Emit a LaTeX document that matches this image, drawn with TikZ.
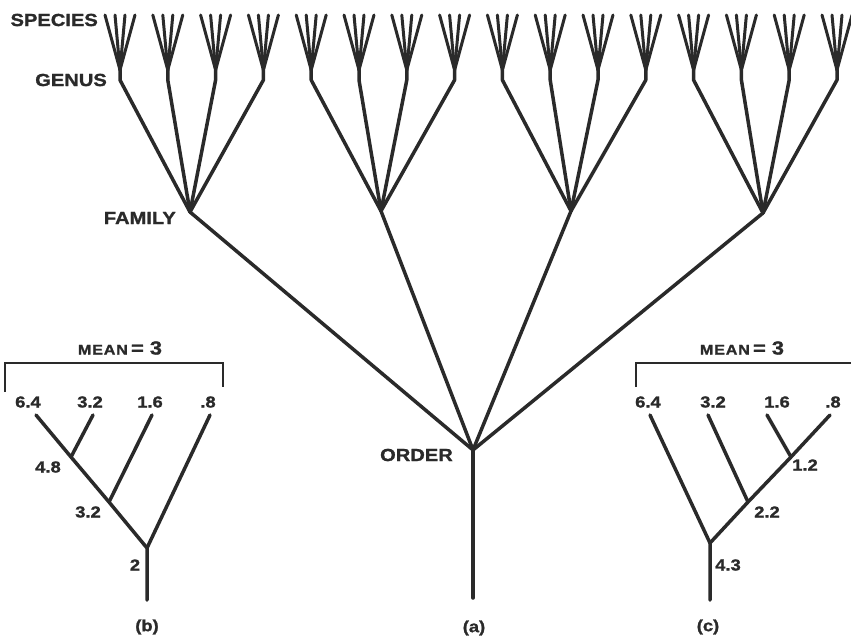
\documentclass[tikz,border=0pt]{standalone}
\usepackage{fontspec}
\setmainfont{Liberation Sans}[FakeStretch=1.15, BoldFeatures={FakeBold=1.3}]
\definecolor{ink}{HTML}{2A2A2A}
\begin{document}
\begin{tikzpicture}[x=1pt,y=-1pt,
  tree/.style={line width=3.5pt, draw=ink, line cap=round, line join=round},
  sp/.style={line width=3pt, draw=ink, line cap=round},
  brk/.style={line width=2pt, draw=ink},
  lbl/.style={font=\bfseries\fontsize{17.5}{18}\selectfont, text=ink, inner sep=0pt},
  num/.style={font=\bfseries\fontsize{16}{16}\selectfont, text=ink, inner sep=0pt}]
\useasboundingbox (0,0) rectangle (851,641);
% families and order
\coordinate (f1) at (190,212);
\coordinate (f2) at (381,211);
\coordinate (f3) at (571,211);
\coordinate (f4) at (763,213);
\coordinate (ord) at (473,450);
\coordinate (root) at (473,598);
% genera and species
\foreach \i in {0,...,15} {
  \pgfmathsetmacro\gx{120+47.8*\i}
  \pgfmathtruncatemacro\j{int(\i/4)+1}
  \coordinate (gc\i) at (\gx,70);
  \coordinate (g\i) at (\gx,80);
  \foreach \d [count=\k] in {-15,-5,5,15} {
    \coordinate (s\i-\k) at (\gx+\d,15);
    \draw[sp] (s\i-\k) -- (gc\i);
  }
  \draw[tree] (gc\i) -- (g\i) -- (f\j);
}
\foreach \j in {1,...,4} { \draw[tree] (f\j) -- (ord); }
\draw[tree] (ord) -- (root);
\node[lbl, anchor=east] (lsp) at (98,20) {SPECIES};
\node[lbl, anchor=east] (lge) at (107,80) {GENUS};
\node[lbl, anchor=east] (lfa) at (176,218) {FAMILY};
\node[lbl, anchor=east] (lor) at (453,455) {ORDER};
\node[num] (la) at (474,628) {(a)};
% subtree (b)
\coordinate (bt1) at (36,415);
\coordinate (bt2) at (93,415);
\coordinate (bt3) at (152,415);
\coordinate (bt4) at (210,415);
\coordinate (bj1) at (71,457);
\coordinate (bj2) at (109,502);
\coordinate (br) at (147,548);
\coordinate (bb) at (147,600);
\draw[tree] (bt1) -- (bj1) -- (bj2) -- (br) -- (bb);
\draw[tree] (bt2) -- (bj1);
\draw[tree] (bt3) -- (bj2);
\draw[tree] (bt4) -- (br);
\coordinate (bk1) at (5,392);
\coordinate (bk2) at (5,363);
\coordinate (bk3) at (223,363);
\coordinate (bk4) at (223,387);
\draw[brk] (bk1) -- (bk2) -- (bk3) -- (bk4);
\node[inner sep=0pt, text=ink] (bmean) at (120,348) {\bfseries{\fontsize{14}{14}\selectfont\addfontfeature{LetterSpace=6}MEAN} {\fontsize{19}{19}\selectfont= 3}};
\node[num] (bl1) at (28,402) {6.4};
\node[num] (bl2) at (90,402) {3.2};
\node[num] (bl3) at (150,402) {1.6};
\node[num] (bl4) at (208,402) {.8};
\node[num] (bn1) at (48,467) {4.8};
\node[num] (bn2) at (88,512) {3.2};
\node[num] (bn3) at (135,565) {2};
\node[num] (lb) at (147,627) {(b)};
% subtree (c)
\coordinate (ct1) at (650,415);
\coordinate (ct2) at (708,415);
\coordinate (ct3) at (767,415);
\coordinate (ct4) at (830,415);
\coordinate (cj1) at (791,457);
\coordinate (cj2) at (748,502);
\coordinate (cr) at (710,543);
\coordinate (cb) at (710,600);
\draw[tree] (ct4) -- (cj1) -- (cj2) -- (cr) -- (cb);
\draw[tree] (ct1) -- (cr);
\draw[tree] (ct2) -- (cj2);
\draw[tree] (ct3) -- (cj1);
\coordinate (ck1) at (636,387);
\coordinate (ck2) at (636,363);
\coordinate (ck3) at (856,363);
\draw[brk] (ck1) -- (ck2) -- (ck3);
\node[inner sep=0pt, text=ink] (cmean) at (742,348) {\bfseries{\fontsize{14}{14}\selectfont\addfontfeature{LetterSpace=6}MEAN} {\fontsize{19}{19}\selectfont= 3}};
\node[num] (cl1) at (648,402) {6.4};
\node[num] (cl2) at (713,402) {3.2};
\node[num] (cl3) at (777,402) {1.6};
\node[num] (cl4) at (833,402) {.8};
\node[num] (cn1) at (805,465) {1.2};
\node[num] (cn2) at (767,512) {2.2};
\node[num] (cn3) at (728,565) {4.3};
\node[num] (lc) at (708,627) {(c)};
\end{tikzpicture}
\end{document}
